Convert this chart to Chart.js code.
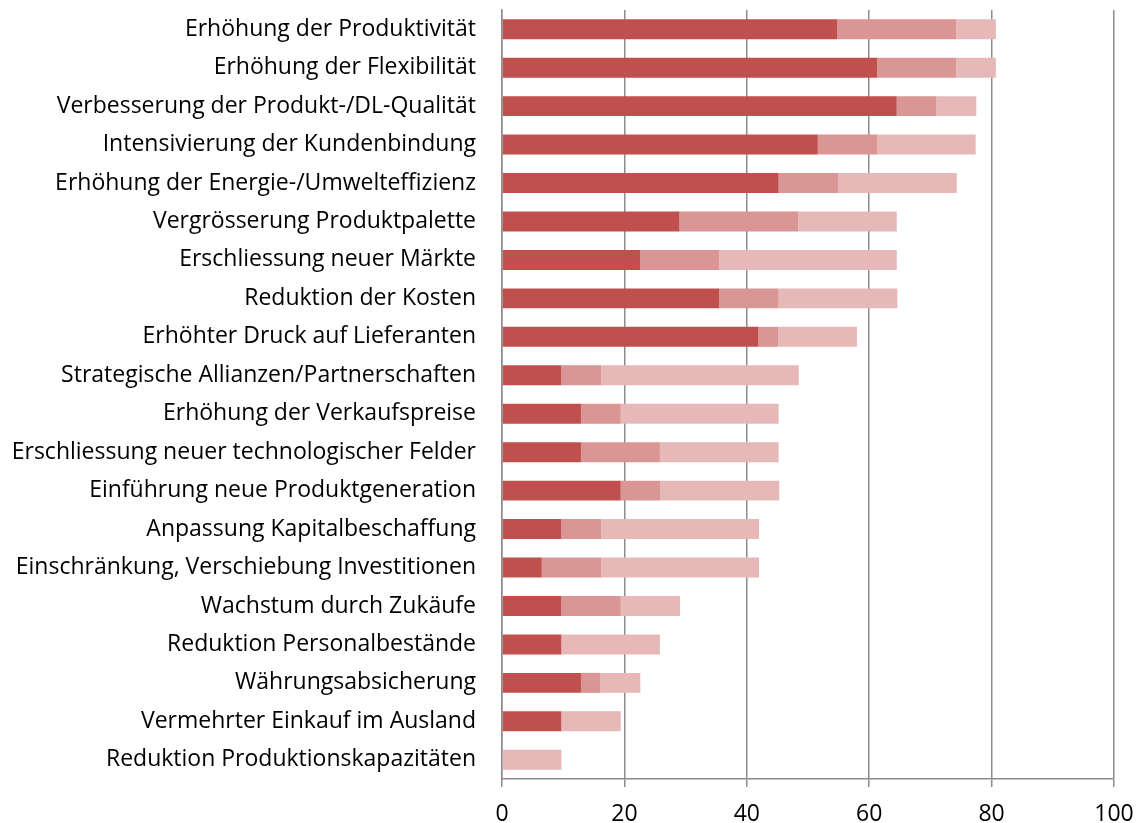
<!DOCTYPE html>
<html>
<head>
<meta charset="utf-8">
<script src="https://cdn.jsdelivr.net/npm/chart.js@4"></script>
<style>
  html, body { margin: 0; padding: 0; background: #fff; }
  #wrap { width: 1136px; height: 823px; }
</style>
</head>
<body>
<div id="wrap"><canvas id="chart"></canvas></div>
<script>
const categories = [
    "Erhöhung der Produktivität",
    "Erhöhung der Flexibilität",
    "Verbesserung der Produkt-/DL-Qualität",
    "Intensivierung der Kundenbindung",
    "Erhöhung der Energie-/Umwelteffizienz",
    "Vergrösserung Produktpalette",
    "Erschliessung neuer Märkte",
    "Reduktion der Kosten",
    "Erhöhter Druck auf Lieferanten",
    "Strategische Allianzen/Partnerschaften",
    "Erhöhung der Verkaufspreise",
    "Erschliessung neuer technologischer Felder",
    "Einführung neue Produktgeneration",
    "Anpassung Kapitalbeschaffung",
    "Einschränkung, Verschiebung Investitionen",
    "Wachstum durch Zukäufe",
    "Reduktion Personalbestände",
    "Währungsabsicherung",
    "Vermehrter Einkauf im Ausland",
    "Reduktion Produktionskapazitäten"
];

// three stacked shares (percent of answers)
const seriesA = [54.8, 61.3, 64.5, 51.6, 45.2, 29.0, 22.6, 35.5, 41.9, 9.7, 12.9, 12.9, 19.4, 9.7, 6.5, 9.7, 9.7, 12.9, 9.7, 0];
const seriesB = [19.4, 12.9, 6.5, 9.7, 9.7, 19.4, 12.9, 9.7, 3.2, 6.5, 6.5, 12.9, 6.5, 6.5, 9.7, 9.7, 0, 3.2, 0, 0];
const seriesC = [6.5, 6.5, 6.5, 16.1, 19.4, 16.1, 29.0, 19.4, 12.9, 32.3, 25.8, 19.4, 19.4, 25.8, 25.8, 9.7, 16.1, 6.5, 9.7, 9.7];

const xTicks = [0, 20, 40, 60, 80, 100];

const fontFamily = "'Open Sans', 'Noto Sans', sans-serif";
const gridColor = '#8c8c8c';

const barOpts = { categoryPercentage: 0.52, barPercentage: 1, borderWidth: 0 };

new Chart(document.getElementById('chart'), {
    type: 'bar',
    data: {
        labels: categories,
        datasets: [
            { label: 'A', data: seriesA, backgroundColor: '#C0504D', ...barOpts },
            { label: 'B', data: seriesB, backgroundColor: '#D99694', ...barOpts },
            { label: 'C', data: seriesC, backgroundColor: '#E6B9B8', ...barOpts }
        ]
    },
    options: {
        indexAxis: 'y',
        responsive: true,
        maintainAspectRatio: false,
        animation: false,
        layout: { padding: { top: 10, right: 22, bottom: 0, left: 0 } },
        plugins: { legend: { display: false }, tooltip: { enabled: false } },
        scales: {
            x: {
                stacked: true,
                min: 0,
                max: 100,
                afterBuildTicks: scale => { scale.ticks = xTicks.map(v => ({ value: v })); },
                afterFit: scale => {
                    scale.height = 44;
                    scale.paddingLeft = 0;
                    scale.paddingRight = 0;
                },
                grid: { color: gridColor, lineWidth: 1.5, tickLength: 8, drawTicks: true },
                border: { color: gridColor, width: 1.5 },
                ticks: { color: '#000', font: { family: fontFamily, size: 23 }, padding: 14, maxRotation: 0 }
            },
            y: {
                stacked: true,
                afterFit: scale => {
                    scale.width = 502;
                    scale.paddingTop = 0;
                    scale.paddingBottom = 0;
                },
                grid: { display: false },
                border: { color: gridColor, width: 1.5 },
                ticks: { color: '#000', font: { family: fontFamily, size: 23 }, padding: 18, autoSkip: false }
            }
        }
    }
});
</script>
</body>
</html>
